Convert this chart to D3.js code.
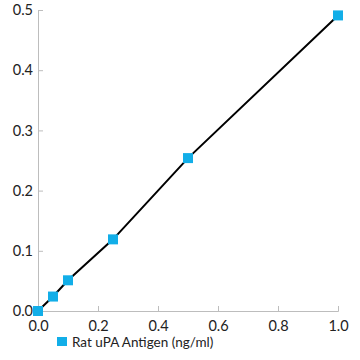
<!DOCTYPE html>
<html><head><meta charset="utf-8">
<script src="https://cdn.jsdelivr.net/npm/d3@7"></script>
<style>body{margin:0;background:#fff}svg{display:block}text{font-family:Lato,"Open Sans",sans-serif}</style>
</head><body>
<svg id="c" width="360" height="360"></svg>
<script>
const xValues = [0, 0.05, 0.1, 0.25, 0.5, 1.0];
const yValues = [0, 0.024, 0.051, 0.119, 0.254, 0.491];
const xTicks = [0, 0.2, 0.4, 0.6, 0.8, 1.0];
const yTicks = [0, 0.1, 0.2, 0.3, 0.4, 0.5];
const seriesName = "Rat uPA Antigen (ng/ml)";

const svg = d3.select("#c");
const x = d3.scaleLinear().domain([0, 1]).range([38, 338]);
const y = d3.scaleLinear().domain([0, 0.5]).range([311, 10]);
const axisColor = "#bdbdbd";

const gx = svg.append("g").attr("transform", "translate(0,311)")
  .call(d3.axisBottom(x).tickValues(xTicks).tickFormat(d3.format(".1f")).tickSize(-5).tickPadding(10));
const gy = svg.append("g").attr("transform", "translate(38,0)")
  .call(d3.axisLeft(y).tickValues(yTicks).tickFormat(d3.format(".1f")).tickSize(-5).tickPadding(5));
[gx, gy].forEach(g => {
  g.select(".domain").attr("stroke", axisColor);
  g.selectAll(".tick line").attr("stroke", axisColor);
  g.selectAll(".tick text").attr("fill", "#222").style("font-size", "14.5px");
});

const pts = xValues.map((v, i) => [v, yValues[i]]);
svg.append("path").datum(pts)
  .attr("fill", "none").attr("stroke", "#000").attr("stroke-width", 2)
  .attr("d", d3.line().x(d => x(d[0])).y(d => y(d[1])));

svg.selectAll("rect.pt").data(pts).enter().append("rect")
  .attr("class", "pt")
  .attr("x", d => x(d[0]) - 5).attr("y", d => y(d[1]) - 5)
  .attr("width", 10).attr("height", 10).attr("fill", "#12aee8");

svg.append("rect").attr("x", 57).attr("y", 337).attr("width", 10).attr("height", 9).attr("fill", "#12aee8");
svg.append("text").attr("x", 72).attr("y", 347).text(seriesName)
  .attr("fill", "#222").style("font-size", "13.5px");
</script>
</body></html>
